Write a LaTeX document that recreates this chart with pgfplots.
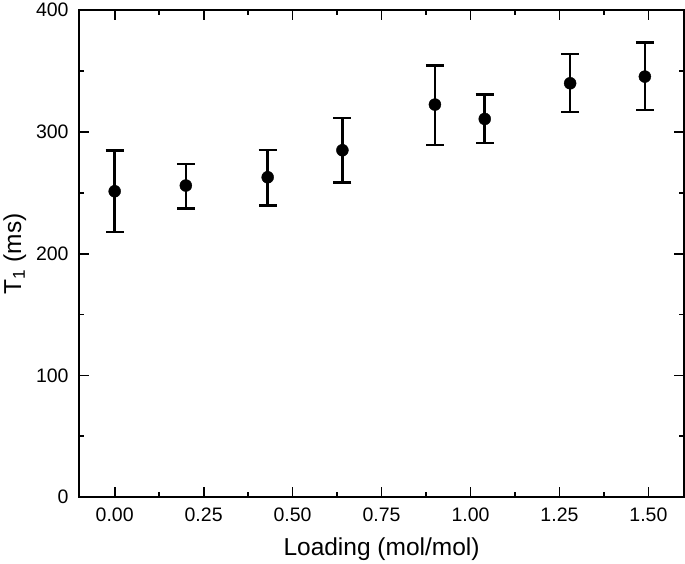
\documentclass[border=0pt]{standalone}
\usepackage{pgfplots}
\pgfplotsset{compat=1.18}
\usepackage{fontspec}
\setmainfont{Liberation Sans}
\begin{document}
\begin{tikzpicture}[x=1pt,y=1pt]
\begin{axis}[
  scale only axis,
  width=605pt, height=487pt,
  xmin=-0.1, xmax=1.6, ymin=0, ymax=400,
  xtick={0,0.25,...,1.5},
  minor x tick num=1,
  ytick={0,100,...,400},
  minor y tick num=1,
  tick align=inside,
  major tick length=10pt,
  minor tick length=5pt,
  every tick/.style={black, line width=1.8pt},
  axis line style={line width=2pt},
  /pgf/number format/assume math mode=true,
  tick label style={font=\fontsize{19.5}{22}\selectfont},
  xticklabel style={yshift=-7pt, /pgf/number format/.cd, fixed, fixed zerofill, precision=2},
  yticklabel style={xshift=-7pt},
  label style={font=\fontsize{24.5}{28}\selectfont},
  xlabel={Loading (mol/mol)},
  ylabel={T\textsubscript{1} (ms)},
  xlabel style={yshift=-9pt},
  ylabel style={yshift=3pt},
]
\addplot+[black, only marks, mark=*, mark size=6pt, mark options={fill=black},
  error bars/.cd, y dir=both, y explicit,
  error bar style={line width=2.5pt},
  error mark options={rotate=90, mark size=9pt, line width=2.5pt}]
coordinates {
(0.00,251.3) -= (0,33.6) += (0,33.5)
(0.20,256.0) -= (0,18.9) += (0,17.8)
(0.43,262.8) -= (0,23.0) += (0,22.4)
(0.64,285.0) -= (0,26.5) += (0,26.3)
(0.90,322.5) -= (0,33.1) += (0,32.3)
(1.04,310.7) -= (0,19.7) += (0,20.1)
(1.28,340.0) -= (0,23.8) += (0,23.9)
(1.49,345.5) -= (0,27.6) += (0,28.0)
};
\end{axis}
\end{tikzpicture}
\end{document}
